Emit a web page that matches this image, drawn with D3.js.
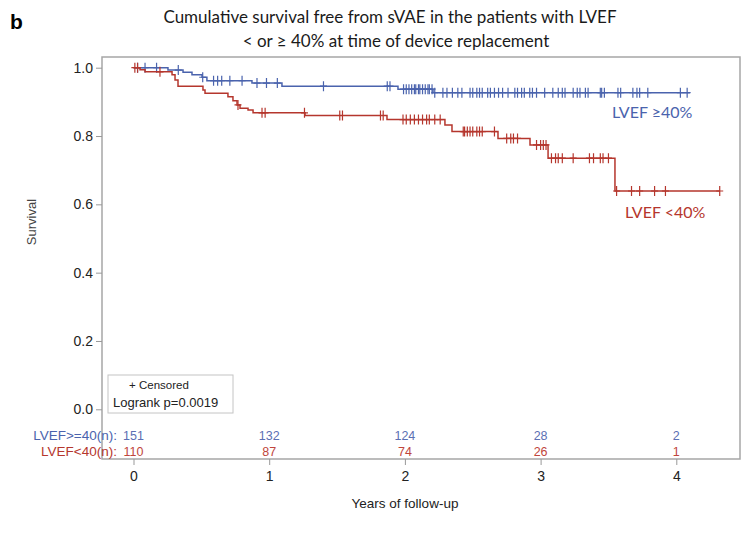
<!DOCTYPE html>
<html>
<head>
<meta charset="utf-8">
<script src="https://cdn.jsdelivr.net/npm/d3@7"></script>
<style>
  body { margin: 0; background: #fff; }
  svg { display: block; }
</style>
</head>
<body>
<div id="chart"></div>
<script>
// survival steps (years, survival after the drop)
var hiTimes = [0.254, 0.365, 0.431, 0.505, 0.541, 0.873, 1.094, 1.949, 2.207];
var hiSurv  = [0.993, 0.987, 0.979, 0.972, 0.962, 0.955, 0.946, 0.937, 0.927];
var hiEnd = 4.10;
var hiCensor = [0.03, 0.085, 0.17, 0.33, 0.51, 0.59, 0.62, 0.65, 0.71, 0.80, 0.91, 0.98, 1.06, 1.40, 1.87, 1.89,
  1.99, 2.01, 2.03, 2.05, 2.07, 2.08, 2.10, 2.11, 2.13, 2.15, 2.17, 2.18, 2.20, 2.22, 2.28, 2.31, 2.35, 2.39,
  2.42, 2.48, 2.50, 2.53, 2.55, 2.57, 2.61, 2.63, 2.66, 2.69, 2.72, 2.76, 2.81, 2.83, 2.86, 2.88, 2.92, 2.94,
  2.97, 3.03, 3.09, 3.13, 3.16, 3.18, 3.24, 3.27, 3.29, 3.33, 3.35, 3.44, 3.45, 3.47, 3.57, 3.59, 3.68, 3.71,
  3.73, 3.79, 4.03, 4.08];

var loTimes = [0.048, 0.085, 0.284, 0.306, 0.328, 0.512, 0.527, 0.696, 0.733, 0.763, 0.785, 0.844, 0.881,
  1.264, 1.868, 2.295, 2.347, 2.686, 2.922, 3.055, 3.548];
var loSurv  = [0.994, 0.988, 0.979, 0.964, 0.946, 0.935, 0.925, 0.915, 0.903, 0.891, 0.881, 0.876, 0.868,
  0.860, 0.848, 0.832, 0.813, 0.793, 0.774, 0.735, 0.639];
var loEnd = 4.32;
var loCensor = [0.01, 0.03, 0.195, 0.77, 0.947, 0.97, 1.26, 1.52, 1.54, 1.82, 1.84, 1.986, 2.01, 2.04, 2.07,
  2.10, 2.13, 2.16, 2.18, 2.22, 2.26, 2.43, 2.44, 2.46, 2.48, 2.50, 2.53, 2.55, 2.57, 2.66, 2.75, 2.78, 2.80,
  2.83, 2.97, 3.00, 3.02, 3.04, 3.08, 3.11, 3.13, 3.16, 3.24, 3.36, 3.39, 3.44, 3.46, 3.50, 3.56, 3.67, 3.73,
  3.84, 3.92, 4.32];

var riskTimes = [0, 1, 2, 3, 4];
var riskHi = [151, 132, 124, 28, 2];
var riskLo = [110, 87, 74, 26, 1];
var yTicks = [0, 0.2, 0.4, 0.6, 0.8, 1.0];

var blue = "#4a63ad";
var red = "#b5362d";
var W = 751, H = 548;
var arial = "'Liberation Sans', Arial, sans-serif";

var svg = d3.select("#chart").append("svg").attr("width", W).attr("height", H);

var x = d3.scaleLinear().domain([0, 4]).range([133.5, 676.3]);
var y = d3.scaleLinear().domain([0, 1]).range([409.3, 67.7]);

// panel letter + title
svg.append("text").attr("x", 10).attr("y", 29)
  .style("font", "bold 21px " + arial).text("b");
var title = svg.append("text").attr("text-anchor", "middle")
  .style("font", "17px Lato, sans-serif").attr("fill", "#1a1a1a");
title.append("tspan").attr("x", 390).attr("y", 23).text("Cumulative survival free from sVAE in the patients with LVEF");
title.append("tspan").attr("x", 396).attr("y", 47).text("< or \u2265 40% at time of device replacement");

// frame
svg.append("rect").attr("x", 102).attr("y", 57).attr("width", 638).attr("height", 402)
  .attr("fill", "none").attr("stroke", "#a6a6a6").attr("stroke-width", 1.5);

// axes
var yAxis = d3.axisLeft(y).tickValues(yTicks).tickFormat(d3.format(".1f")).tickSize(6).tickPadding(3);
var gy = svg.append("g").attr("transform", "translate(102,0)").call(yAxis);
gy.select(".domain").remove();
gy.selectAll("line").attr("stroke", "#999");
gy.selectAll("text").style("font", "14px " + arial).attr("fill", "#222");

var xAxis = d3.axisBottom(x).tickValues(riskTimes).tickFormat(d3.format("d")).tickSize(6).tickPadding(6);
var gx = svg.append("g").attr("transform", "translate(0,459)").call(xAxis);
gx.select(".domain").remove();
gx.selectAll("line").attr("stroke", "#999");
gx.selectAll("text").style("font", "14px " + arial).attr("fill", "#222");

svg.append("text").attr("x", 405).attr("y", 508).attr("text-anchor", "middle")
  .style("font", "13.5px " + arial).attr("fill", "#222").text("Years of follow-up");
svg.append("text").attr("transform", "translate(36,222) rotate(-90)").attr("text-anchor", "middle")
  .style("font", "13px " + arial).attr("fill", "#444").text("Survival");

// km curves
function stepPoints(times, surv, end) {
  var pts = [[0, 1]];
  times.forEach(function (t, i) { pts.push([t, surv[i]]); });
  pts.push([end, surv[surv.length - 1]]);
  return pts;
}
function survAt(times, surv, t) {
  var s = 1;
  for (var i = 0; i < times.length; i++) {
    if (times[i] <= t) s = surv[i];
  }
  return s;
}
var line = d3.line().x(d => x(d[0])).y(d => y(d[1])).curve(d3.curveStepAfter);

function drawCurve(times, surv, end, censor, color) {
  var g = svg.append("g");
  g.append("path").datum(stepPoints(times, surv, end))
    .attr("d", line).attr("fill", "none").attr("stroke", color).attr("stroke-width", 1.5);
  g.selectAll("path.cens").data(censor).enter().append("path")
    .attr("class", "cens")
    .attr("d", function (t) {
      var cx = x(t), cy = y(survAt(times, surv, t));
      return "M" + cx + "," + (cy - 5) + "V" + (cy + 5) + "M" + (cx - 3.5) + "," + cy + "H" + (cx + 3.5);
    })
    .attr("stroke", color).attr("stroke-width", 1.2).attr("fill", "none");
}
drawCurve(hiTimes, hiSurv, hiEnd, hiCensor, blue);
drawCurve(loTimes, loSurv, loEnd, loCensor, red);

svg.append("text").attr("x", 612).attr("y", 118).style("font", "16px Lato, sans-serif")
  .attr("fill", blue).text("LVEF \u226540%");
svg.append("text").attr("x", 625).attr("y", 218).style("font", "16px Lato, sans-serif")
  .attr("fill", red).text("LVEF <40%");

// legend box
svg.append("rect").attr("x", 108).attr("y", 375).attr("width", 125).attr("height", 38)
  .attr("fill", "#fff").attr("stroke", "#c4c4c4").attr("stroke-width", 1);
svg.append("text").attr("x", 159).attr("y", 389).attr("text-anchor", "middle")
  .style("font", "11.5px " + arial).attr("fill", "#222").text("+  Censored");
svg.append("text").attr("x", 113).attr("y", 407)
  .style("font", "13px " + arial).attr("fill", "#222").text("Logrank p=0.0019");

// numbers at risk
var labelFont = "13.5px " + arial;
var riskFont = "12.5px " + arial;
svg.append("text").attr("x", 117).attr("y", 440).attr("text-anchor", "end")
  .style("font", labelFont).attr("fill", blue).text("LVEF>=40(n):");
svg.append("text").attr("x", 117).attr("y", 456).attr("text-anchor", "end")
  .style("font", labelFont).attr("fill", red).text("LVEF<40(n):");
svg.selectAll("text.rhi").data(riskHi).enter().append("text").attr("class", "rhi")
  .attr("x", (d, i) => x(riskTimes[i])).attr("y", 440).attr("text-anchor", "middle")
  .style("font", riskFont).attr("fill", "#5b6fb3").text(d => d);
svg.selectAll("text.rlo").data(riskLo).enter().append("text").attr("class", "rlo")
  .attr("x", (d, i) => x(riskTimes[i])).attr("y", 456).attr("text-anchor", "middle")
  .style("font", riskFont).attr("fill", "#c0453c").text(d => d);
</script>
</body>
</html>
